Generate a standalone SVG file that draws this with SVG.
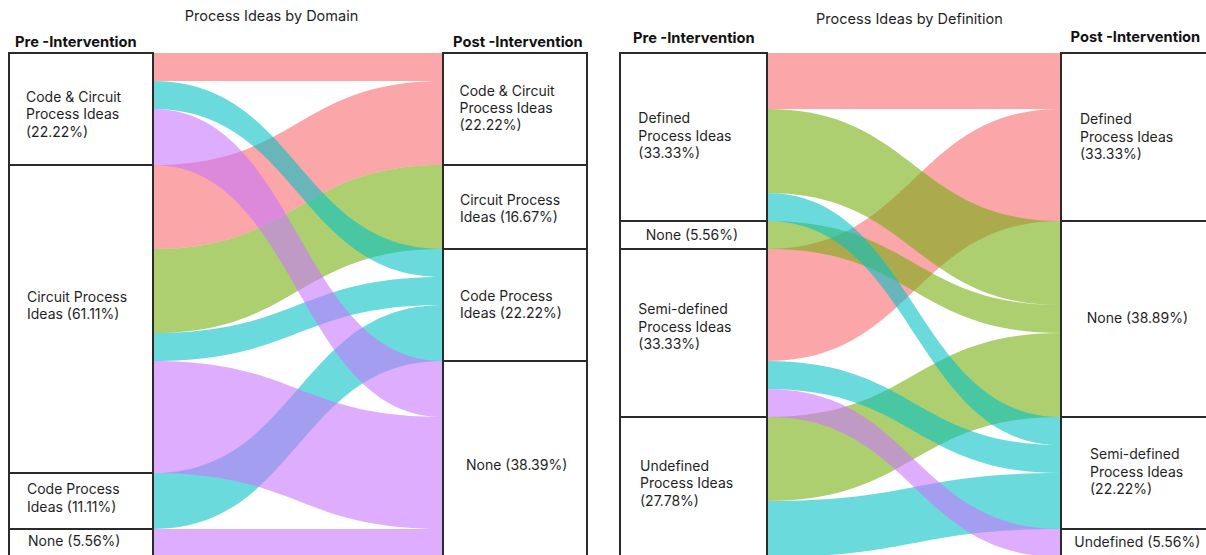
<svg xmlns="http://www.w3.org/2000/svg" width="1206" height="555" viewBox="0 0 1206 555">
<style>
.bg{fill:#ffffff}
.box{fill:#ffffff;stroke:#2b2b2b;stroke-width:2}
.lbl{font-family:Inter,"Liberation Sans",sans-serif;font-size:14px;fill:#1f1f1f}
.hdr{font-family:Inter,"Liberation Sans",sans-serif;font-size:14.7px;font-weight:700;fill:#111111}
.ttl{font-family:Inter,"Liberation Sans",sans-serif;font-size:14.5px;fill:#1f1f1f}
.pk{fill:#F86A70;fill-opacity:0.6}
.gr{fill:#76AF10;fill-opacity:0.6}
.cy{fill:#06C2C4;fill-opacity:0.6}
.pu{fill:#C976FD;fill-opacity:0.6}
</style>
<rect class="bg" x="0" y="0" width="1206" height="555"/>
<text class="ttl" x="271.5" y="20.5" text-anchor="middle">Process Ideas by Domain</text>
<text class="ttl" x="909.5" y="24" text-anchor="middle">Process Ideas by Definition</text>
<text class="hdr" x="15" y="47">Pre -Intervention</text>
<text class="hdr" x="453" y="46.5">Post -Intervention</text>
<text class="hdr" x="633" y="43.3">Pre -Intervention</text>
<text class="hdr" x="1070.5" y="42.3">Post -Intervention</text>
<g id="connectors">
<path class="pk" d="M153 53 C298 53 298 53 443 53 L443 81 C298 81 298 81 153 81 Z"/>
<path class="pk" d="M153 165 C298 165 298 81 443 81 L443 165 C298 165 298 249 153 249 Z"/>
<path class="gr" d="M153 249 C298 249 298 165 443 165 L443 249 C298 249 298 333 153 333 Z"/>
<path class="cy" d="M153 81 C298 81 298 249 443 249 L443 277 C298 277 298 109 153 109 Z"/>
<path class="cy" d="M153 333 C298 333 298 277 443 277 L443 305 C298 305 298 361 153 361 Z"/>
<path class="cy" d="M153 473 C298 473 298 305 443 305 L443 361 C298 361 298 529 153 529 Z"/>
<path class="pu" d="M153 109 C298 109 298 361 443 361 L443 417 C298 417 298 165 153 165 Z"/>
<path class="pu" d="M153 361 C298 361 298 417 443 417 L443 529 C298 529 298 473 153 473 Z"/>
<path class="pu" d="M153 529 C298 529 298 529 443 529 L443 557 C298 557 298 557 153 557 Z"/>
<path class="pk" d="M767 53 C914 53 914 53 1061 53 L1061 109 C914 109 914 109 767 109 Z"/>
<path class="pk" d="M767 249 C914 249 914 109 1061 109 L1061 221 C914 221 914 361 767 361 Z"/>
<path class="gr" d="M767 109 C914 109 914 221 1061 221 L1061 305 C914 305 914 193 767 193 Z"/>
<path class="gr" d="M767 221 C914 221 914 305 1061 305 L1061 333 C914 333 914 249 767 249 Z"/>
<path class="gr" d="M767 417 C914 417 914 333 1061 333 L1061 417 C914 417 914 501 767 501 Z"/>
<path class="cy" d="M767 193 C914 193 914 417 1061 417 L1061 445 C914 445 914 221 767 221 Z"/>
<path class="cy" d="M767 361 C914 361 914 445 1061 445 L1061 473 C914 473 914 389 767 389 Z"/>
<path class="cy" d="M767 501 C914 501 914 473 1061 473 L1061 529 C914 529 914 557 767 557 Z"/>
<path class="pu" d="M767 389 C914 389 914 529 1061 529 L1061 557 C914 557 914 417 767 417 Z"/>
</g>
<g id="d-pre-cc"><rect class="box" x="9" y="53" width="144" height="112"/><text class="lbl" x="26" y="101.7">Code &amp; Circuit</text><text class="lbl" x="26" y="119.2">Process Ideas</text><text class="lbl" x="26" y="136.6">(22.22%)</text></g>
<g id="d-pre-ci"><rect class="box" x="9" y="165" width="144" height="308"/><text class="lbl" x="27" y="301.5">Circuit Process</text><text class="lbl" x="27" y="318.8">Ideas (61.11%)</text></g>
<g id="d-pre-co"><rect class="box" x="9" y="473" width="144" height="56"/><text class="lbl" x="27" y="494">Code Process</text><text class="lbl" x="27" y="511.5">Ideas (11.11%)</text></g>
<g id="d-pre-no"><rect class="box" x="9" y="529" width="144" height="40"/><text class="lbl" x="28" y="546">None (5.56%)</text></g>
<g id="d-post-cc"><rect class="box" x="443" y="53" width="144" height="112"/><text class="lbl" x="459.5" y="95.7">Code &amp; Circuit</text><text class="lbl" x="459.5" y="113">Process Ideas</text><text class="lbl" x="459.5" y="130.4">(22.22%)</text></g>
<g id="d-post-ci"><rect class="box" x="443" y="165" width="144" height="84"/><text class="lbl" x="460" y="205">Circuit Process</text><text class="lbl" x="460" y="221.7">Ideas (16.67%)</text></g>
<g id="d-post-co"><rect class="box" x="443" y="249" width="144" height="112"/><text class="lbl" x="460" y="300.7">Code Process</text><text class="lbl" x="460" y="317.7">Ideas (22.22%)</text></g>
<g id="d-post-no"><rect class="box" x="443" y="361" width="144" height="210"/><text class="lbl" x="466" y="470">None (38.39%)</text></g>
<g id="f-pre-def"><rect class="box" x="620" y="53" width="147" height="168"/><text class="lbl" x="638.3" y="123.3">Defined</text><text class="lbl" x="638.3" y="140.7">Process Ideas</text><text class="lbl" x="638.3" y="158">(33.33%)</text></g>
<g id="f-pre-none"><rect class="box" x="620" y="221" width="147" height="28"/><text class="lbl" x="645.7" y="239.5">None (5.56%)</text></g>
<g id="f-pre-semi"><rect class="box" x="620" y="249" width="147" height="168"/><text class="lbl" x="638.3" y="314">Semi-defined</text><text class="lbl" x="638.3" y="331.7">Process Ideas</text><text class="lbl" x="638.3" y="349">(33.33%)</text></g>
<g id="f-pre-undef"><rect class="box" x="620" y="417" width="147" height="160"/><text class="lbl" x="640" y="471">Undefined</text><text class="lbl" x="640" y="488.3">Process Ideas</text><text class="lbl" x="640" y="505.7">(27.78%)</text></g>
<g id="f-post-def"><rect class="box" x="1061" y="53" width="160" height="168"/><text class="lbl" x="1080" y="124">Defined</text><text class="lbl" x="1080" y="141.7">Process Ideas</text><text class="lbl" x="1080" y="159">(33.33%)</text></g>
<g id="f-post-none"><rect class="box" x="1061" y="221" width="160" height="196"/><text class="lbl" x="1086.7" y="323.3">None (38.89%)</text></g>
<g id="f-post-semi"><rect class="box" x="1061" y="417" width="160" height="112"/><text class="lbl" x="1090" y="459.3">Semi-defined</text><text class="lbl" x="1090" y="476.7">Process Ideas</text><text class="lbl" x="1090" y="494">(22.22%)</text></g>
<g id="f-post-undef"><rect class="box" x="1061" y="529" width="160" height="40"/><text class="lbl" x="1074.3" y="546.7">Undefined (5.56%)</text></g>
</svg>
